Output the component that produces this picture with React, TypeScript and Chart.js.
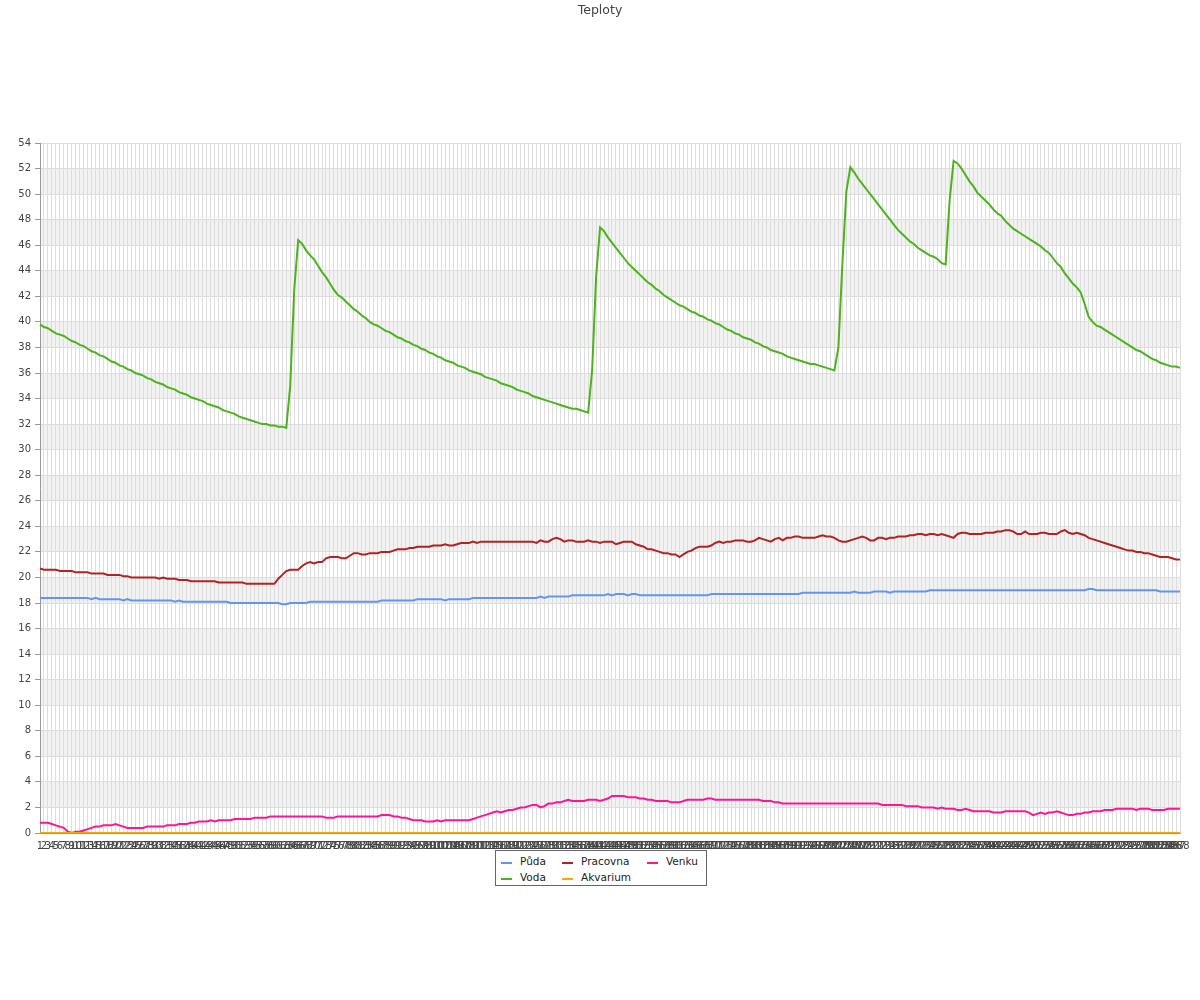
import React, { useEffect, useRef } from "react";
import { Chart, registerables } from "chart.js";

Chart.register(...registerables);

const TITLE = "Teploty";

const LABELS: string[] = Array.from({ length: 288 }, (_, i) => String(i + 1));

const SERIES_NAMES = ["Půda", "Voda", "Pracovna", "Akvarium", "Venku"];
const SERIES_COLORS = ["#6495ED", "#4CB31A", "#B22222", "#FFA500", "#FF1493"];

const PUDA = [
  18.4,18.4,18.4,18.4,18.4,18.4,18.4,18.4,18.4,18.4,
  18.4,18.4,18.4,18.3,18.4,18.3,18.3,18.3,18.3,18.3,
  18.3,18.2,18.3,18.2,18.2,18.2,18.2,18.2,18.2,18.2,
  18.2,18.2,18.2,18.2,18.1,18.2,18.1,18.1,18.1,18.1,
  18.1,18.1,18.1,18.1,18.1,18.1,18.1,18.1,18.0,18.0,
  18.0,18.0,18.0,18.0,18.0,18.0,18.0,18.0,18.0,18.0,
  18.0,17.9,17.9,18.0,18.0,18.0,18.0,18.0,18.1,18.1,
  18.1,18.1,18.1,18.1,18.1,18.1,18.1,18.1,18.1,18.1,
  18.1,18.1,18.1,18.1,18.1,18.1,18.2,18.2,18.2,18.2,
  18.2,18.2,18.2,18.2,18.2,18.3,18.3,18.3,18.3,18.3,
  18.3,18.3,18.2,18.3,18.3,18.3,18.3,18.3,18.3,18.4,
  18.4,18.4,18.4,18.4,18.4,18.4,18.4,18.4,18.4,18.4,
  18.4,18.4,18.4,18.4,18.4,18.4,18.5,18.4,18.5,18.5,
  18.5,18.5,18.5,18.5,18.6,18.6,18.6,18.6,18.6,18.6,
  18.6,18.6,18.6,18.7,18.6,18.7,18.7,18.7,18.6,18.7,
  18.7,18.6,18.6,18.6,18.6,18.6,18.6,18.6,18.6,18.6,
  18.6,18.6,18.6,18.6,18.6,18.6,18.6,18.6,18.6,18.7,
  18.7,18.7,18.7,18.7,18.7,18.7,18.7,18.7,18.7,18.7,
  18.7,18.7,18.7,18.7,18.7,18.7,18.7,18.7,18.7,18.7,
  18.7,18.7,18.8,18.8,18.8,18.8,18.8,18.8,18.8,18.8,
  18.8,18.8,18.8,18.8,18.8,18.9,18.8,18.8,18.8,18.8,
  18.9,18.9,18.9,18.9,18.8,18.9,18.9,18.9,18.9,18.9,
  18.9,18.9,18.9,18.9,19.0,19.0,19.0,19.0,19.0,19.0,
  19.0,19.0,19.0,19.0,19.0,19.0,19.0,19.0,19.0,19.0,
  19.0,19.0,19.0,19.0,19.0,19.0,19.0,19.0,19.0,19.0,
  19.0,19.0,19.0,19.0,19.0,19.0,19.0,19.0,19.0,19.0,
  19.0,19.0,19.0,19.0,19.1,19.1,19.0,19.0,19.0,19.0,
  19.0,19.0,19.0,19.0,19.0,19.0,19.0,19.0,19.0,19.0,
  19.0,19.0,18.9,18.9,18.9,18.9,18.9,18.9,
];

const VODA = [
  39.8,39.6,39.5,39.3,39.1,39.0,38.9,38.7,38.5,38.4,
  38.2,38.1,37.9,37.7,37.6,37.4,37.3,37.1,36.9,36.8,
  36.6,36.5,36.3,36.2,36.0,35.9,35.8,35.6,35.5,35.3,
  35.2,35.1,34.9,34.8,34.7,34.5,34.4,34.3,34.1,34.0,
  33.9,33.8,33.6,33.5,33.4,33.3,33.1,33.0,32.9,32.8,
  32.6,32.5,32.4,32.3,32.2,32.1,32.0,32.0,31.9,31.9,
  31.8,31.8,31.7,35.0,42.5,46.4,46.1,45.6,45.2,44.9,
  44.4,43.9,43.5,43.0,42.5,42.1,41.9,41.6,41.3,41.0,
  40.8,40.5,40.3,40.0,39.8,39.7,39.5,39.3,39.2,39.0,
  38.8,38.7,38.5,38.4,38.2,38.1,37.9,37.8,37.6,37.5,
  37.3,37.2,37.0,36.9,36.8,36.6,36.5,36.4,36.2,36.1,
  36.0,35.9,35.7,35.6,35.5,35.4,35.2,35.1,35.0,34.9,
  34.7,34.6,34.5,34.4,34.2,34.1,34.0,33.9,33.8,33.7,
  33.6,33.5,33.4,33.3,33.2,33.2,33.1,33.0,32.9,36.2,
  43.5,47.4,47.1,46.6,46.2,45.8,45.4,45.0,44.6,44.3,
  44.0,43.7,43.4,43.1,42.9,42.6,42.4,42.1,41.9,41.7,
  41.5,41.3,41.2,41.0,40.8,40.7,40.5,40.4,40.2,40.1,
  39.9,39.8,39.6,39.4,39.3,39.1,39.0,38.8,38.7,38.6,
  38.4,38.3,38.1,38.0,37.8,37.7,37.6,37.5,37.3,37.2,
  37.1,37.0,36.9,36.8,36.7,36.7,36.6,36.5,36.4,36.3,
  36.2,38.0,44.5,50.2,52.1,51.7,51.2,50.8,50.4,50.0,
  49.6,49.2,48.8,48.4,48.0,47.6,47.2,46.9,46.6,46.3,
  46.1,45.8,45.6,45.4,45.2,45.1,44.9,44.6,44.5,49.5,
  52.6,52.4,52.0,51.5,51.0,50.6,50.1,49.8,49.5,49.2,
  48.8,48.5,48.3,47.9,47.6,47.3,47.1,46.9,46.7,46.5,
  46.3,46.1,45.9,45.6,45.4,45.0,44.6,44.3,43.8,43.4,
  43.0,42.7,42.3,41.4,40.4,40.0,39.7,39.6,39.4,39.2,
  39.0,38.8,38.6,38.4,38.2,38.0,37.8,37.7,37.5,37.3,
  37.1,37.0,36.8,36.7,36.6,36.5,36.5,36.4,
];

const PRACOVNA = [
  20.7,20.6,20.6,20.6,20.6,20.5,20.5,20.5,20.5,20.4,
  20.4,20.4,20.4,20.3,20.3,20.3,20.3,20.2,20.2,20.2,
  20.2,20.1,20.1,20.0,20.0,20.0,20.0,20.0,20.0,20.0,
  19.9,20.0,19.9,19.9,19.9,19.8,19.8,19.8,19.7,19.7,
  19.7,19.7,19.7,19.7,19.7,19.6,19.6,19.6,19.6,19.6,
  19.6,19.6,19.5,19.5,19.5,19.5,19.5,19.5,19.5,19.5,
  19.9,20.2,20.5,20.6,20.6,20.6,20.9,21.1,21.2,21.1,
  21.2,21.2,21.5,21.6,21.6,21.6,21.5,21.5,21.7,21.9,
  21.9,21.8,21.8,21.9,21.9,21.9,22.0,22.0,22.0,22.1,
  22.2,22.2,22.2,22.3,22.3,22.4,22.4,22.4,22.4,22.5,
  22.5,22.5,22.6,22.5,22.5,22.6,22.7,22.7,22.7,22.8,
  22.7,22.8,22.8,22.8,22.8,22.8,22.8,22.8,22.8,22.8,
  22.8,22.8,22.8,22.8,22.8,22.7,22.9,22.8,22.8,23.0,
  23.1,23.0,22.8,22.9,22.9,22.8,22.8,22.8,22.9,22.8,
  22.8,22.7,22.8,22.8,22.8,22.6,22.7,22.8,22.8,22.8,
  22.6,22.5,22.4,22.2,22.2,22.1,22.0,21.9,21.9,21.8,
  21.8,21.6,21.8,22.0,22.1,22.3,22.4,22.4,22.4,22.5,
  22.7,22.8,22.7,22.8,22.8,22.9,22.9,22.9,22.8,22.8,
  22.9,23.1,23.0,22.9,22.8,23.0,23.1,22.9,23.1,23.1,
  23.2,23.2,23.1,23.1,23.1,23.1,23.2,23.3,23.2,23.2,
  23.1,22.9,22.8,22.8,22.9,23.0,23.1,23.2,23.1,22.9,
  22.9,23.1,23.1,23.0,23.1,23.1,23.2,23.2,23.2,23.3,
  23.3,23.4,23.4,23.3,23.4,23.4,23.3,23.4,23.3,23.2,
  23.1,23.4,23.5,23.5,23.4,23.4,23.4,23.4,23.5,23.5,
  23.5,23.6,23.6,23.7,23.7,23.6,23.4,23.4,23.6,23.4,
  23.4,23.4,23.5,23.5,23.4,23.4,23.4,23.6,23.7,23.5,
  23.4,23.5,23.4,23.3,23.1,23.0,22.9,22.8,22.7,22.6,
  22.5,22.4,22.3,22.2,22.1,22.1,22.0,22.0,21.9,21.9,
  21.8,21.7,21.6,21.6,21.6,21.5,21.4,21.4,
];

const AKVARIUM = [
  0,0,0,0,0,0,0,0,0,0, 0,0,0,0,0,0,0,0,0,0, 0,0,0,0,0,0,0,0,0,0,
  0,0,0,0,0,0,0,0,0,0, 0,0,0,0,0,0,0,0,0,0, 0,0,0,0,0,0,0,0,0,0,
  0,0,0,0,0,0,0,0,0,0, 0,0,0,0,0,0,0,0,0,0, 0,0,0,0,0,0,0,0,0,0,
  0,0,0,0,0,0,0,0,0,0, 0,0,0,0,0,0,0,0,0,0, 0,0,0,0,0,0,0,0,0,0,
  0,0,0,0,0,0,0,0,0,0, 0,0,0,0,0,0,0,0,0,0, 0,0,0,0,0,0,0,0,0,0,
  0,0,0,0,0,0,0,0,0,0, 0,0,0,0,0,0,0,0,0,0, 0,0,0,0,0,0,0,0,0,0,
  0,0,0,0,0,0,0,0,0,0, 0,0,0,0,0,0,0,0,0,0, 0,0,0,0,0,0,0,0,0,0,
  0,0,0,0,0,0,0,0,0,0, 0,0,0,0,0,0,0,0,0,0, 0,0,0,0,0,0,0,0,0,0,
  0,0,0,0,0,0,0,0,0,0, 0,0,0,0,0,0,0,0,0,0, 0,0,0,0,0,0,0,0,0,0,
  0,0,0,0,0,0,0,0,0,0, 0,0,0,0,0,0,0,0,
];

const VENKU = [
  0.8,0.8,0.8,0.7,0.6,0.5,0.4,0.1,0.0,0.1,
  0.1,0.2,0.3,0.4,0.5,0.5,0.6,0.6,0.6,0.7,
  0.6,0.5,0.4,0.4,0.4,0.4,0.4,0.5,0.5,0.5,
  0.5,0.5,0.6,0.6,0.6,0.7,0.7,0.7,0.8,0.8,
  0.9,0.9,0.9,1.0,0.9,1.0,1.0,1.0,1.0,1.1,
  1.1,1.1,1.1,1.1,1.2,1.2,1.2,1.2,1.3,1.3,
  1.3,1.3,1.3,1.3,1.3,1.3,1.3,1.3,1.3,1.3,
  1.3,1.3,1.2,1.2,1.2,1.3,1.3,1.3,1.3,1.3,
  1.3,1.3,1.3,1.3,1.3,1.3,1.4,1.4,1.4,1.3,
  1.3,1.2,1.2,1.1,1.0,1.0,1.0,0.9,0.9,0.9,
  1.0,0.9,1.0,1.0,1.0,1.0,1.0,1.0,1.0,1.1,
  1.2,1.3,1.4,1.5,1.6,1.7,1.6,1.7,1.8,1.8,
  1.9,2.0,2.0,2.1,2.2,2.2,2.0,2.1,2.3,2.3,
  2.4,2.4,2.5,2.6,2.5,2.5,2.5,2.5,2.6,2.6,
  2.6,2.5,2.6,2.7,2.9,2.9,2.9,2.9,2.8,2.8,
  2.8,2.7,2.7,2.6,2.6,2.5,2.5,2.5,2.5,2.4,
  2.4,2.4,2.5,2.6,2.6,2.6,2.6,2.6,2.7,2.7,
  2.6,2.6,2.6,2.6,2.6,2.6,2.6,2.6,2.6,2.6,
  2.6,2.6,2.5,2.5,2.5,2.4,2.4,2.3,2.3,2.3,
  2.3,2.3,2.3,2.3,2.3,2.3,2.3,2.3,2.3,2.3,
  2.3,2.3,2.3,2.3,2.3,2.3,2.3,2.3,2.3,2.3,
  2.3,2.3,2.2,2.2,2.2,2.2,2.2,2.2,2.1,2.1,
  2.1,2.1,2.0,2.0,2.0,2.0,1.9,2.0,1.9,1.9,
  1.9,1.8,1.8,1.9,1.8,1.7,1.7,1.7,1.7,1.7,
  1.6,1.6,1.6,1.7,1.7,1.7,1.7,1.7,1.7,1.6,
  1.4,1.5,1.6,1.5,1.6,1.6,1.7,1.6,1.5,1.4,
  1.4,1.5,1.5,1.6,1.6,1.7,1.7,1.7,1.8,1.8,
  1.8,1.9,1.9,1.9,1.9,1.9,1.8,1.9,1.9,1.9,
  1.8,1.8,1.8,1.8,1.9,1.9,1.9,1.9,
];

const SERIES_DATA = [PUDA, VODA, PRACOVNA, AKVARIUM, VENKU];

const Y_MIN = 0;
const Y_MAX = 54;
const Y_LABEL_STEP = 2;
const BANDS: [number, number][] = [
  [2, 4], [6, 8], [10, 12], [14, 16], [18, 20], [22, 24], [26, 28],
  [30, 32], [34, 36], [38, 40], [42, 44], [46, 48], [50, 52],
];

const FONT = '"DejaVu Sans", sans-serif';

const bandsPlugin = {
  id: "bands",
  beforeDraw(chart: any) {
    const { ctx, chartArea, scales } = chart;
    const y = scales.y;
    ctx.save();
    ctx.fillStyle = "#f2f2f2";
    for (const [a, b] of BANDS) {
      const y1 = y.getPixelForValue(b);
      const y2 = y.getPixelForValue(a);
      ctx.fillRect(chartArea.left, y1, chartArea.right - chartArea.left, y2 - y1);
    }
    ctx.restore();
  },
};

// page-centred title drawn on the canvas
const titlePlugin = {
  id: "pageTitle",
  afterDraw(chart: any) {
    const { ctx, width } = chart;
    ctx.save();
    ctx.fillStyle = "#444";
    ctx.font = `12.5px ${FONT}`;
    ctx.textAlign = "center";
    ctx.textBaseline = "middle";
    ctx.fillText(TITLE, width / 2, 11);
    ctx.restore();
  },
};

// legend layout: [seriesIndex, column, row]
const LEGEND_ITEMS: [number, number, number][] = [
  [0, 0, 0],
  [1, 0, 1],
  [2, 1, 0],
  [3, 1, 1],
  [4, 2, 0],
];
const LEGEND_COL_X = [5, 66, 151];

export default function App() {
  const ref = useRef<HTMLCanvasElement | null>(null);

  useEffect(() => {
    if (!ref.current) return;
    const chart = new Chart(ref.current, {
      type: "line",
      data: {
        labels: LABELS,
        datasets: SERIES_NAMES.map((name, i) => ({
          label: name,
          data: SERIES_DATA[i],
          borderColor: SERIES_COLORS[i],
          backgroundColor: SERIES_COLORS[i],
          borderWidth: 2,
          pointRadius: 0,
          pointHoverRadius: 0,
          tension: 0,
          fill: false,
        })),
      },
      options: {
        responsive: false,
        animation: false,
        devicePixelRatio: 1,
        layout: { padding: { top: 143, left: 0, right: 20, bottom: 147 } },
        plugins: {
          legend: { display: false },
          tooltip: { enabled: false },
          title: { display: false },
        },
        scales: {
          x: {
            type: "category",
            offset: false,
            grid: {
              color: "#dddddd",
              drawTicks: false,
            },
            border: { display: true, color: "#999" },
            ticks: {
              autoSkip: false,
              maxRotation: 0,
              minRotation: 0,
              color: "#444",
              padding: 7,
              font: { family: FONT, size: 10 },
            },
            afterFit: (scale: any) => {
              scale.height = 20;
            },
          },
          y: {
            min: Y_MIN,
            max: Y_MAX,
            grid: {
              color: (ctx: any) =>
                ctx.tick && ctx.tick.value % Y_LABEL_STEP === 0 ? "#dddddd" : "rgba(0,0,0,0)",
              tickColor: "#999",
              tickLength: 5,
            },
            border: { display: true, color: "#999" },
            ticks: {
              stepSize: 1,
              color: "#444",
              padding: 4,
              font: { family: FONT, size: 10 },
              callback: (v: any) => (Number(v) % Y_LABEL_STEP === 0 ? String(v) : ""),
            },
            afterFit: (scale: any) => {
              scale.width = 40;
            },
          },
        },
      },
      plugins: [bandsPlugin, titlePlugin],
    });
    return () => chart.destroy();
  }, []);

  return (
    <div style={{ position: "absolute", left: 0, top: 0, width: 1200, height: 1000, background: "#fff" }}>
      <canvas ref={ref} width={1200} height={1000} style={{ display: "block" }} />
      <div
        style={{
          position: "absolute",
          left: 495,
          top: 850,
          width: 212,
          height: 36,
          border: "1px solid #666",
          background: "#fff",
          fontFamily: FONT,
          fontSize: 10.5,
          color: "#222",
          boxSizing: "border-box",
        }}
      >
        {LEGEND_ITEMS.map(([si, col, row]) => (
          <div
            key={si}
            style={{
              position: "absolute",
              left: LEGEND_COL_X[col],
              top: 3 + row * 16,
              height: 14,
              lineHeight: "14px",
              whiteSpace: "nowrap",
            }}
          >
            <span
              style={{
                position: "absolute",
                left: 0,
                top: 8,
                width: 11,
                height: 2,
                background: SERIES_COLORS[si],
              }}
            />
            <span style={{ position: "absolute", left: 19, top: 0 }}>{SERIES_NAMES[si]}</span>
          </div>
        ))}
      </div>
    </div>
  );
}
